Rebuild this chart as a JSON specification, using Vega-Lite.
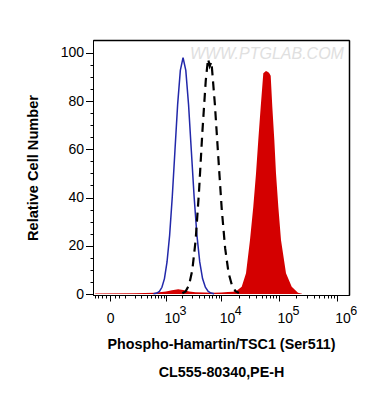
{
  "$schema": "https://vega.github.io/schema/vega-lite/v6.json",
  "width": 256,
  "height": 255,
  "autosize": {"type": "none"},
  "padding": {"left": 93, "top": 40, "right": 21, "bottom": 112},
  "background": "white",
  "view": {"stroke": "black", "strokeWidth": 1},
  "config": {
    "font": "Liberation Sans",
    "axis": {
      "grid": false,
      "domainColor": "black",
      "tickColor": "black",
      "labelColor": "black",
      "titleColor": "black",
      "labelFont": "Liberation Sans",
      "titleFont": "Liberation Sans"
    }
  },
  "datasets": {
    "curves": [
      {"series": "red", "x": -100, "y": 0.2},
      {"series": "red", "x": 200, "y": 0.3},
      {"series": "red", "x": 600, "y": 0.5},
      {"series": "red", "x": 1000, "y": 1.0},
      {"series": "red", "x": 1300, "y": 1.6},
      {"series": "red", "x": 1700, "y": 2.0},
      {"series": "red", "x": 2100, "y": 1.7},
      {"series": "red", "x": 2700, "y": 1.0},
      {"series": "red", "x": 3500, "y": 0.7},
      {"series": "red", "x": 5000, "y": 0.6},
      {"series": "red", "x": 7000, "y": 0.5},
      {"series": "red", "x": 10000, "y": 0.6},
      {"series": "red", "x": 13000, "y": 0.8},
      {"series": "red", "x": 16006, "y": 0.9},
      {"series": "red", "x": 18776, "y": 1.5},
      {"series": "red", "x": 22668, "y": 3},
      {"series": "red", "x": 26914, "y": 8.6},
      {"series": "red", "x": 31574, "y": 22.4},
      {"series": "red", "x": 36002, "y": 36.2},
      {"series": "red", "x": 40138, "y": 50},
      {"series": "red", "x": 43969, "y": 63.8},
      {"series": "red", "x": 48410, "y": 77.6},
      {"series": "red", "x": 53680, "y": 91.5},
      {"series": "red", "x": 59768, "y": 92.5},
      {"series": "red", "x": 64758, "y": 92},
      {"series": "red", "x": 68222, "y": 91.5},
      {"series": "red", "x": 72078, "y": 90.5},
      {"series": "red", "x": 76860, "y": 77.6},
      {"series": "red", "x": 83277, "y": 63.8},
      {"series": "red", "x": 89048, "y": 50},
      {"series": "red", "x": 97637, "y": 36.2},
      {"series": "red", "x": 108617, "y": 22.4},
      {"series": "red", "x": 132565, "y": 8.6},
      {"series": "red", "x": 166469, "y": 3},
      {"series": "red", "x": 213744, "y": 0.5},
      {"series": "red", "x": 250588, "y": 0.1},
      {"series": "blue", "x": 560, "y": 0.1},
      {"series": "blue", "x": 661, "y": 0.4},
      {"series": "blue", "x": 741, "y": 1.1},
      {"series": "blue", "x": 832, "y": 2.8},
      {"series": "blue", "x": 933, "y": 6.4},
      {"series": "blue", "x": 1047, "y": 13.3},
      {"series": "blue", "x": 1175, "y": 24.4},
      {"series": "blue", "x": 1318, "y": 40.3},
      {"series": "blue", "x": 1479, "y": 59.4},
      {"series": "blue", "x": 1660, "y": 78.5},
      {"series": "blue", "x": 1862, "y": 92.7},
      {"series": "blue", "x": 2089, "y": 98},
      {"series": "blue", "x": 2344, "y": 92.7},
      {"series": "blue", "x": 2630, "y": 78.5},
      {"series": "blue", "x": 2951, "y": 59.4},
      {"series": "blue", "x": 3311, "y": 40.3},
      {"series": "blue", "x": 3715, "y": 24.4},
      {"series": "blue", "x": 4169, "y": 13.3},
      {"series": "blue", "x": 4677, "y": 6.4},
      {"series": "blue", "x": 5248, "y": 2.8},
      {"series": "blue", "x": 5888, "y": 1.1},
      {"series": "blue", "x": 6607, "y": 0.4},
      {"series": "blue", "x": 7500, "y": 0.1},
      {"series": "dash", "x": 2028, "y": 0.3},
      {"series": "dash", "x": 2328, "y": 1.1},
      {"series": "dash", "x": 2673, "y": 3.6},
      {"series": "dash", "x": 3069, "y": 9.8},
      {"series": "dash", "x": 3524, "y": 22.3},
      {"series": "dash", "x": 4046, "y": 42.4},
      {"series": "dash", "x": 4645, "y": 67.2},
      {"series": "dash", "x": 5333, "y": 88.5},
      {"series": "dash", "x": 5848, "y": 97.5},
      {"series": "dash", "x": 6266, "y": 94.5},
      {"series": "dash", "x": 6714, "y": 96.3},
      {"series": "dash", "x": 7709, "y": 78.8},
      {"series": "dash", "x": 8851, "y": 56.9},
      {"series": "dash", "x": 10162, "y": 35.4},
      {"series": "dash", "x": 11668, "y": 19},
      {"series": "dash", "x": 13397, "y": 8.7},
      {"series": "dash", "x": 15382, "y": 3.5},
      {"series": "dash", "x": 17660, "y": 1.2},
      {"series": "dash", "x": 20277, "y": 0.4}
    ],
    "watermark": [
      {"x": 62000, "y": 99.5, "label": "WWW.PTGLAB.COM"}
    ]
  },
  "layer": [
    {
      "data": {"name": "curves"},
      "transform": [{"filter": "datum.series === 'red'"}],
      "mark": {"type": "area", "color": "#d40000", "interpolate": "linear"},
      "encoding": {
        "x": {
          "field": "x", "type": "quantitative",
          "scale": {"type": "symlog", "constant": 122, "domain": [-120, 1626000], "nice": false, "zero": false},
          "axis": {
            "orient": "bottom",
            "values": [0, 1000, 10000, 100000, 1000000],
            "labelExpr": "datum.value == 0 ? '0' : '10'",
            "labelAlign": {"condition": {"test": "datum.value == 0", "value": "center"}, "value": "left"},
            "labelOffset": {"condition": {"test": "datum.value == 0", "value": 0}, "value": -2},
            "tickSize": 6,
            "labelPadding": 10,
            "labelFontSize": 14,
            "labelFlush": false,
            "labelOverlap": false,
            "title": ["Phospho-Hamartin/TSC1 (Ser511)", "CL555-80340,PE-H"],
            "titleFontSize": 14.3,
            "titleFontWeight": "bold",
            "titleLineHeight": 28,
            "titlePadding": 12
          }
        },
        "y": {
          "field": "y", "type": "quantitative",
          "scale": {"domain": [-0.4, 105.3], "nice": false, "zero": false},
          "axis": {
            "orient": "left",
            "values": [0, 20, 40, 60, 80, 100],
            "tickSize": 7.5,
            "labelPadding": 2,
            "labelFontSize": 14,
            "title": "Relative Cell Number",
            "titleFontSize": 14.6,
            "titleFontWeight": "bold",
            "titlePadding": 20
          }
        }
      }
    },
    {
      "data": {"name": "curves"},
      "transform": [{"filter": "datum.series === 'blue'"}],
      "mark": {"type": "line", "color": "#2228aa", "strokeWidth": 1.5, "interpolate": "linear"},
      "encoding": {
        "x": {
          "field": "x", "type": "quantitative",
          "axis": {
            "orient": "bottom",
            "values": [-100, -75, -50, -25, 25, 50, 100, 200, 300, 400, 500, 600, 700, 800, 900, 2000, 3000, 4000, 5000, 6000, 7000, 8000, 9000, 20000, 30000, 40000, 50000, 60000, 70000, 80000, 90000, 200000, 300000, 400000, 500000, 600000, 700000, 800000, 900000],
            "labels": false,
            "domain": false,
            "tickSize": 3,
            "title": null
          }
        },
        "y": {
          "field": "y", "type": "quantitative",
          "axis": {
            "orient": "left",
            "values": [5, 10, 15, 25, 30, 35, 45, 50, 55, 65, 70, 75, 85, 90, 95],
            "labels": false,
            "domain": false,
            "tickSize": 3,
            "title": null
          }
        }
      }
    },
    {
      "data": {"name": "curves"},
      "transform": [{"filter": "datum.series === 'dash'"}],
      "mark": {"type": "line", "color": "black", "strokeWidth": 2.2, "strokeDash": [9, 6], "interpolate": "linear"},
      "encoding": {
        "x": {
          "field": "x", "type": "quantitative",
          "axis": {
            "orient": "bottom",
            "values": [1000, 10000, 100000, 1000000],
            "labelExpr": "datum.value == 1000 ? '3' : datum.value == 10000 ? '4' : datum.value == 100000 ? '5' : '6'",
            "labelAlign": "left",
            "labelOffset": 13,
            "labelFontSize": 12.5,
            "labelPadding": 9,
            "labelFlush": false,
            "labelOverlap": false,
            "ticks": false,
            "tickSize": 0,
            "domain": false,
            "title": null
          }
        },
        "y": {"field": "y", "type": "quantitative", "axis": null}
      }
    },
    {
      "data": {"name": "watermark"},
      "mark": {"type": "text", "font": "Liberation Sans", "fontStyle": "italic", "fontSize": 16, "color": "#e0e0e0", "align": "center", "baseline": "middle"},
      "encoding": {
        "x": {
          "field": "x", "type": "quantitative",
          "axis": {"orient": "top", "domain": true, "domainWidth": 1.5, "ticks": false, "labels": false, "title": null, "domainColor": "black"}
        },
        "y": {
          "field": "y", "type": "quantitative",
          "axis": {"orient": "right", "domain": true, "domainWidth": 1.5, "ticks": false, "labels": false, "title": null, "domainColor": "black"}
        },
        "text": {"field": "label"}
      }
    }
  ],
  "resolve": {"axis": {"x": "independent", "y": "independent"}}
}
